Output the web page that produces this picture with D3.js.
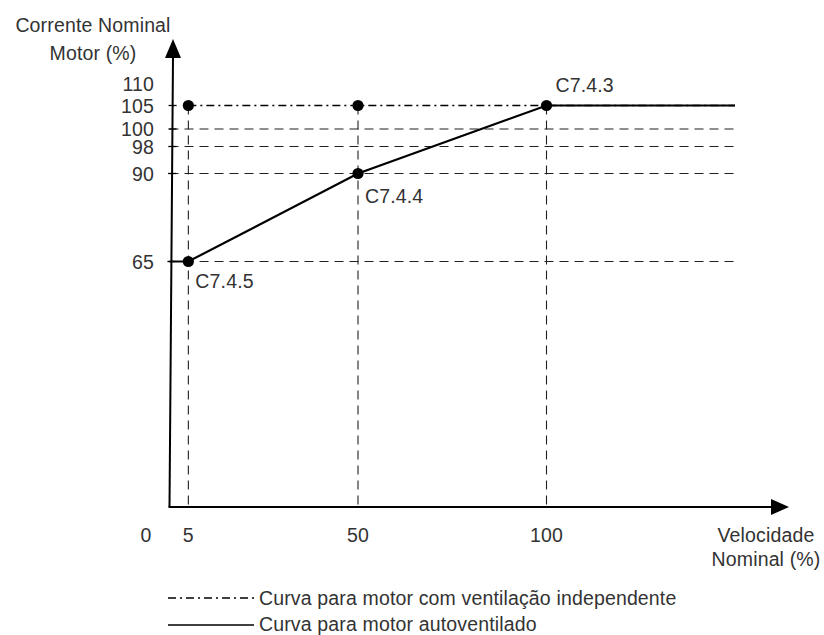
<!DOCTYPE html>
<html>
<head>
<meta charset="utf-8">
<script src="https://cdn.jsdelivr.net/npm/d3@7"></script>
<style>
  html, body { margin: 0; padding: 0; background: #fff; }
  svg { display: block; }
  text { font-family: "Liberation Sans", Arial, Helvetica, sans-serif; fill: #333; letter-spacing: 0.15px; }
</style>
</head>
<body>
<svg id="chart" width="824" height="635"></svg>
<script>
// ---- data ----
const yTickValues = [110, 105, 100, 98, 90, 65];
const yTickMarks = [105, 100, 98, 90, 65];
const xTickLabels = ["0", "5", "50", "100"];
const xTickValues = [0, 5, 50, 100];
const guideX = [5, 50, 100];              // vertical dashed guides
const guideY = [100, 98, 90, 65];          // horizontal dashed guides
const independentX = [5, 50, 100, 150];    // motor com ventilação independente
const independentY = [105, 105, 105, 105];
const selfX = [0, 5, 50, 100, 150];        // motor autoventilado
const selfY = [65, 65, 90, 105, 105];
const pointX = [5, 50, 100, 5, 50];
const pointY = [105, 105, 105, 65, 90];
const paramLabels = ["C7.4.5", "C7.4.4", "C7.4.3"];
const paramX = [5, 50, 100];
const paramY = [65, 90, 105];
const legendLabels = ["Curva para motor com ventilação independente", "Curva para motor autoventilado"];

// ---- scales (schematic, piecewise y) ----
const x = d3.scaleLinear().domain([0, 150]).range([169.5, 735]);
const y = d3.scaleLinear()
  .domain([0, 65, 90, 98, 100, 105, 110])
  .range([507, 261.5, 173.5, 146.5, 129, 105.5, 84]);

const svg = d3.select("#chart");
const FS = 19.5;

// guides
const gGuides = svg.append("g").attr("stroke", "#231f20").attr("stroke-width", 1.1)
  .attr("stroke-dasharray", "9,6").attr("fill", "none");
guideY.forEach(v => {
  gGuides.append("line").attr("x1", x(0)).attr("x2", x(150)).attr("y1", y(v)).attr("y2", y(v));
});
guideX.forEach(v => {
  gGuides.append("line").attr("x1", x(v)).attr("x2", x(v)).attr("y1", y(105)).attr("y2", y(0));
});

// axes
const axisColor = "#000";
const yTopX = 173, yTopY = 57, tipY = 39;
svg.append("line").attr("x1", x(0)).attr("y1", y(0)).attr("x2", yTopX).attr("y2", yTopY)
  .attr("stroke", axisColor).attr("stroke-width", 2);
svg.append("path").attr("d", `M${yTopX},${tipY} L${yTopX - 8},${yTopY + 1} L${yTopX + 8},${yTopY + 1} Z`).attr("fill", axisColor);
svg.append("line").attr("x1", x(0) - 1).attr("y1", y(0)).attr("x2", 772).attr("y2", y(0))
  .attr("stroke", axisColor).attr("stroke-width", 2);
svg.append("path").attr("d", `M789,${y(0)} L771,${y(0) - 8} L771,${y(0) + 8} Z`).attr("fill", axisColor);

// y tick marks
yTickMarks.forEach(v => {
  const ax = x(0) + (yTopX - x(0)) * (y(0) - y(v)) / (y(0) - yTopY);
  svg.append("line").attr("x1", ax - 4).attr("x2", ax + 4).attr("y1", y(v)).attr("y2", y(v))
    .attr("stroke", axisColor).attr("stroke-width", 1.3);
});

// y tick labels
svg.append("g").selectAll("text").data(yTickValues).join("text")
  .attr("x", 154).attr("y", d => y(d) + 7).attr("text-anchor", "end")
  .attr("font-size", FS).text(d => d);

// x tick labels
svg.append("g").selectAll("text").data(xTickValues).join("text")
  .attr("x", (d, i) => i === 0 ? 146 : x(d)).attr("y", 542).attr("text-anchor", "middle")
  .attr("font-size", FS).text((d, i) => xTickLabels[i]);

// axis titles
svg.append("text").attr("x", 93).attr("y", 32).attr("text-anchor", "middle").attr("font-size", FS).text("Corrente Nominal");
svg.append("text").attr("x", 93).attr("y", 59.5).attr("text-anchor", "middle").attr("font-size", FS).text("Motor (%)");
svg.append("text").attr("x", 766).attr("y", 542).attr("text-anchor", "middle").attr("font-size", FS).text("Velocidade");
svg.append("text").attr("x", 766).attr("y", 566).attr("text-anchor", "middle").attr("font-size", FS).text("Nominal (%)");

// series lines
const lineGen = d3.line().x(d => x(d[0])).y(d => y(d[1]));
svg.append("path").datum(independentX.map((v, i) => [v, independentY[i]]))
  .attr("d", lineGen).attr("fill", "none").attr("stroke", "#000").attr("stroke-width", 1.5)
  .attr("stroke-dasharray", "8,4,2,4");
svg.append("path").datum(selfX.map((v, i) => [v, selfY[i]]))
  .attr("d", lineGen).attr("fill", "none").attr("stroke", "#000").attr("stroke-width", 2.2);

// points
svg.append("g").selectAll("circle").data(pointX.map((v, i) => [v, pointY[i]])).join("circle")
  .attr("cx", d => x(d[0])).attr("cy", d => y(d[1])).attr("r", 5.6).attr("fill", "#000");

// parameter labels
const paramDx = [7, 7, 9];
const paramDy = [26, 29, -14];
svg.append("g").selectAll("text").data(paramLabels).join("text")
  .attr("x", (d, i) => x(paramX[i]) + paramDx[i]).attr("y", (d, i) => y(paramY[i]) + paramDy[i])
  .attr("font-size", FS).text(d => d);

// legend
const leg = svg.append("g");
leg.append("line").attr("x1", 168).attr("x2", 254).attr("y1", 598).attr("y2", 598)
  .attr("stroke", "#000").attr("stroke-width", 1.5).attr("stroke-dasharray", "8,4,2,4");
leg.append("line").attr("x1", 168).attr("x2", 254).attr("y1", 625).attr("y2", 625)
  .attr("stroke", "#000").attr("stroke-width", 1.5);
leg.selectAll("text").data(legendLabels).join("text")
  .attr("x", 259).attr("y", (d, i) => 604.5 + i * 26.5).attr("font-size", FS).text(d => d);
</script>
</body>
</html>
